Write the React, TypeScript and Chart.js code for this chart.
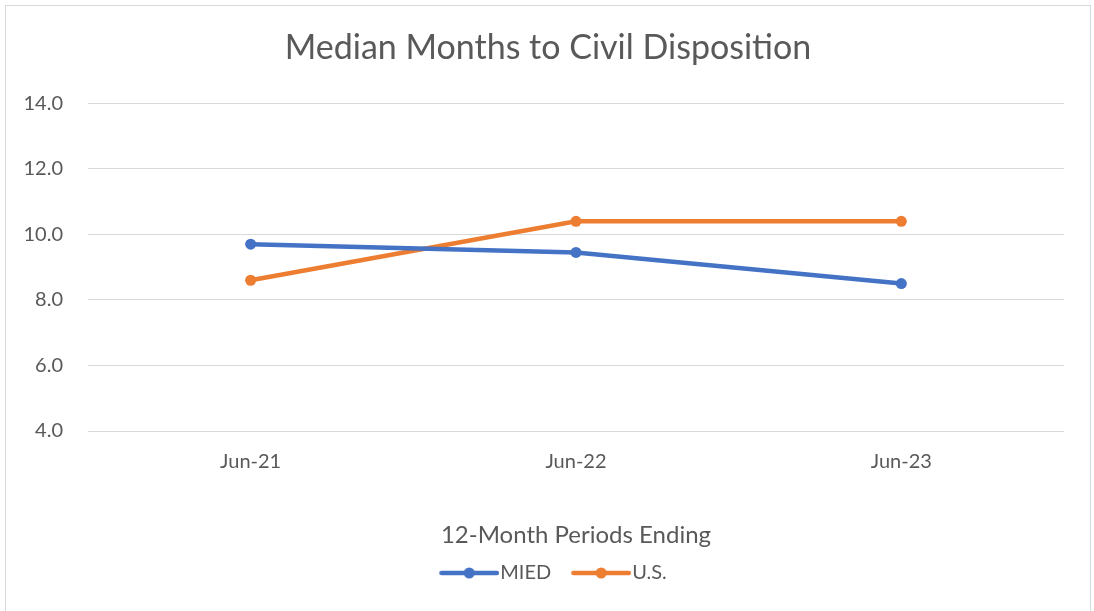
import React, { useEffect, useRef } from "react";
import { Chart, registerables } from "chart.js";

Chart.register(...registerables);

const categories = ["Jun-21", "Jun-22", "Jun-23"];
const miedValues = [9.7, 9.45, 8.5];
const usValues = [8.6, 10.4, 10.4];
const seriesNames = ["MIED", "U.S."];
const chartTitle = "Median Months to Civil Disposition";
const xAxisTitle = "12-Month Periods Ending";

const BLUE = "#4472C4";
const ORANGE = "#ED7D31";
const TEXT = "#595959";
const GRID = "#d9d9d9";
const FONT = "Lato, 'Noto Sans', sans-serif";

// legend marker: legend box width LEG_W, image centred at LEG_W/2
const LEG_W = 61;
function legendImage(color: string): HTMLCanvasElement {
  const c = document.createElement("canvas");
  c.width = 79;
  c.height = 14;
  const ctx = c.getContext("2d")!;
  ctx.strokeStyle = color;
  ctx.lineWidth = 4.5;
  ctx.lineCap = "round";
  ctx.beginPath();
  ctx.moveTo(21.25, 7);
  ctx.lineTo(76.75, 7);
  ctx.stroke();
  ctx.fillStyle = color;
  ctx.beginPath();
  ctx.arc(49, 7, 5.5, 0, Math.PI * 2);
  ctx.fill();
  return c;
}

export default function App() {
  const ref = useRef<HTMLCanvasElement | null>(null);

  useEffect(() => {
    if (!ref.current) return;
    const imgs = [legendImage(BLUE), legendImage(ORANGE)];
    const chart = new Chart(ref.current, {
      type: "line",
      data: {
        labels: categories,
        datasets: [
          {
            label: seriesNames[0],
            data: miedValues,
            borderColor: BLUE,
            backgroundColor: BLUE,
            borderWidth: 4.5,
            pointRadius: 5.5,
            pointHoverRadius: 5.5,
            pointBorderWidth: 0,
            tension: 0,
            yAxisID: "y",
          },
          {
            label: seriesNames[1],
            data: usValues,
            borderColor: ORANGE,
            backgroundColor: ORANGE,
            borderWidth: 4.5,
            pointRadius: 5.5,
            pointHoverRadius: 5.5,
            pointBorderWidth: 0,
            tension: 0,
            yAxisID: "y",
          },
        ],
      },
      options: {
        animation: false,
        responsive: false,
        layout: { padding: { left: 16, right: 14, top: 0, bottom: 18 } },
        plugins: {
          title: {
            display: true,
            text: chartTitle,
            color: TEXT,
            font: { family: FONT, size: 34, weight: "normal" },
            padding: { top: 28, bottom: 34.5 },
          },
          legend: {
            position: "bottom",
            labels: {
              color: TEXT,
              font: { family: FONT, size: 20 },
              usePointStyle: true,
              pointStyleWidth: LEG_W,
              padding: 10,
              generateLabels: (ch: any) => {
                const items = Chart.defaults.plugins.legend.labels.generateLabels(ch);
                return items.map((it: any, i: number) => ({ ...it, pointStyle: imgs[i] }));
              },
            },
          },
          tooltip: { enabled: false },
        },
        scales: {
          x: {
            offset: true,
            grid: { display: false, drawTicks: false },
            border: { display: false },
            ticks: { color: TEXT, font: { family: FONT, size: 20 }, padding: 19 },
            title: {
              display: true,
              text: xAxisTitle,
              color: TEXT,
              font: { family: FONT, size: 24 },
              padding: { top: 0, bottom: 3 },
            },
            afterFit: (s: any) => {
              s.height = 122;
            },
          },
          y: {
            min: 4,
            max: 14,
            ticks: {
              stepSize: 2,
              color: TEXT,
              font: { family: FONT, size: 20 },
              padding: 25,
              callback: (v: any) => Number(v).toFixed(1),
            },
            grid: { color: GRID, lineWidth: 1, drawTicks: false },
            border: { display: false },
            afterFit: (s: any) => {
              s.width = 72;
            },
          },
          yRight: {
            type: "linear",
            position: "right",
            display: true,
            grid: { display: false, drawTicks: false },
            border: { display: false },
            ticks: { display: false },
            afterFit: (s: any) => {
              s.width = 16;
            },
          },
        },
      },
    });
    return () => chart.destroy();
  }, []);

  return (
    <div style={{ position: "fixed", left: 0, top: 0, width: 1094, height: 611, background: "#fff" }}>
      <div
        style={{
          position: "absolute",
          left: 5,
          top: 5,
          width: 1086,
          height: 640,
          border: "1px solid #d9d9d9",
          boxSizing: "border-box",
        }}
      />
      <canvas ref={ref} width={1094} height={611} style={{ position: "absolute", left: 0, top: 0 }} />
    </div>
  );
}
